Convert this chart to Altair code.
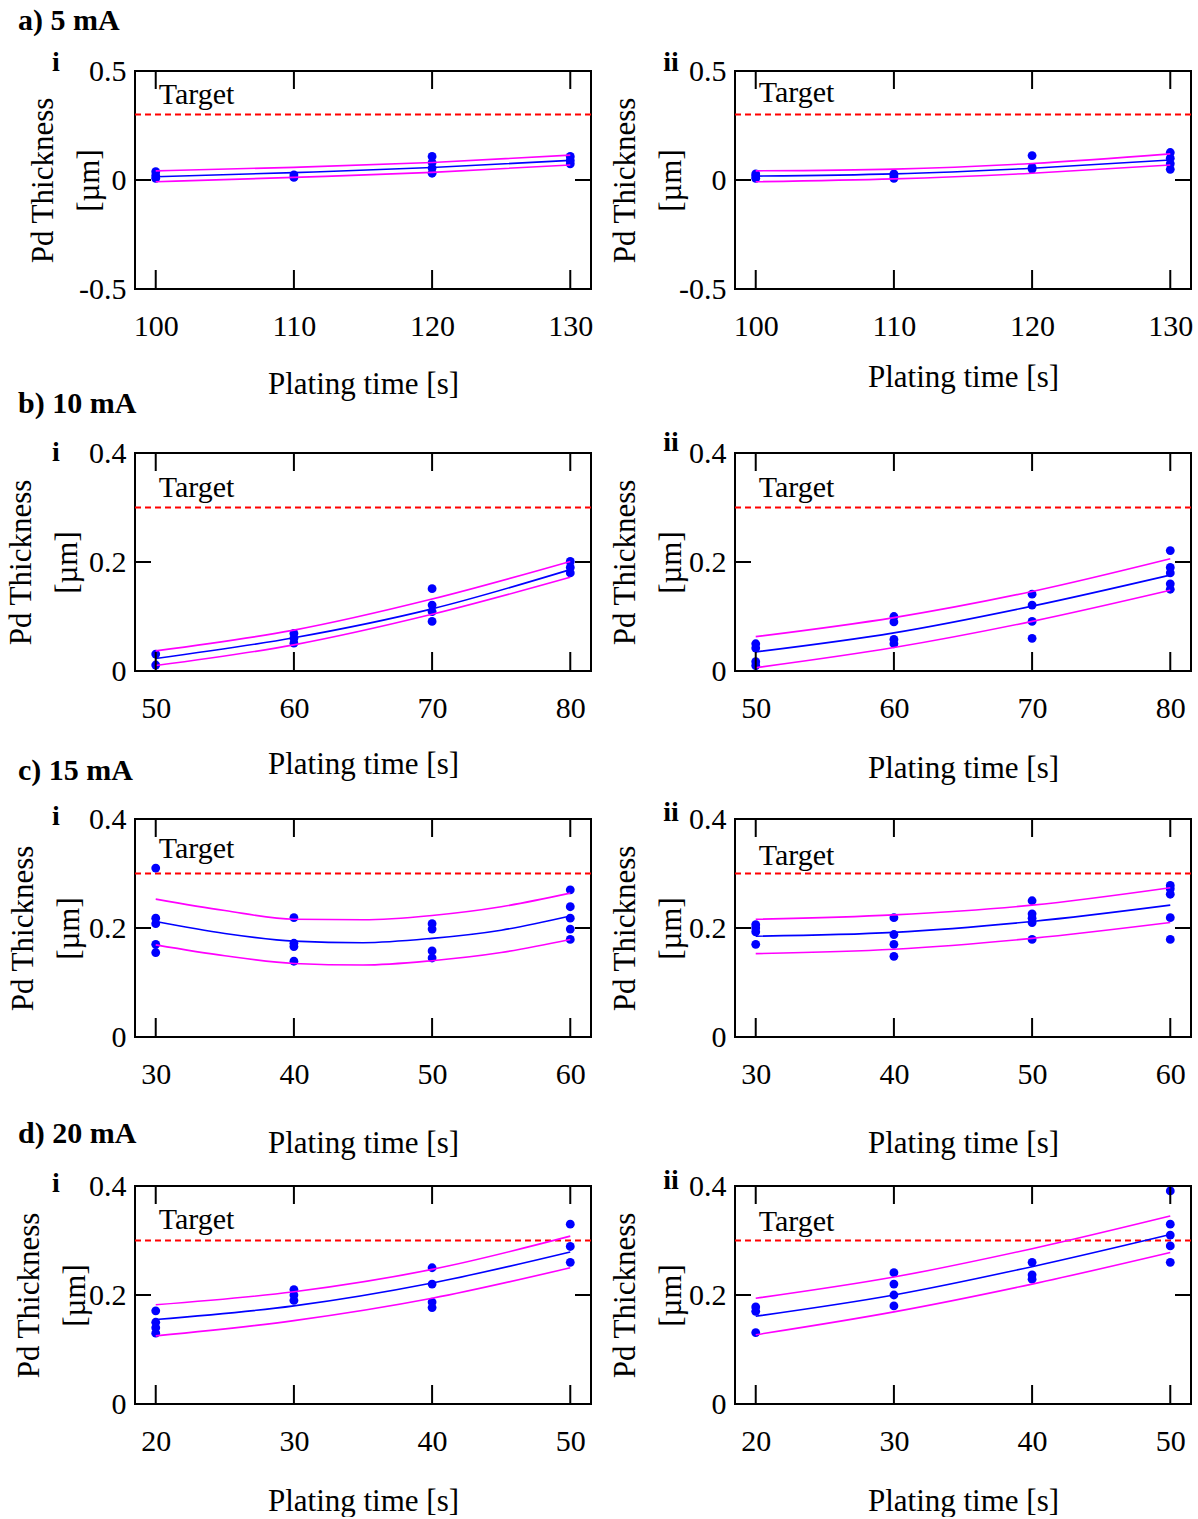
import altair as alt
import pandas as pd

FONT = "Liberation Serif"
W, H = 456, 218
TARGET = 0.3

# ---------------- data ----------------
A_TIMES = [100, 110, 120, 130]
B_TIMES = [50, 60, 70, 80]
C_TIMES = [30, 40, 50, 60]
D_TIMES = [20, 30, 40, 50]

A_YTICKS = [-0.5, 0, 0.5]
A_YDOMAIN = [-0.5, 0.5]
BCD_YTICKS = [0, 0.2, 0.4]
BCD_YDOMAIN = [0, 0.4]

# a) 5 mA
A1_POINTS = {100: [0.008, 0.02, 0.038], 110: [0.012, 0.023],
             120: [0.031, 0.055, 0.08, 0.108], 130: [0.074, 0.09, 0.108]}
A1_FIT_MID = [0.015, 0.034, 0.057, 0.09]
A1_FIT_UP = [0.042, 0.058, 0.08, 0.114]
A1_FIT_LO = [-0.008, 0.012, 0.035, 0.069]

A2_POINTS = {100: [0.008, 0.018, 0.028], 110: [0.008, 0.018, 0.028],
             120: [0.05, 0.058, 0.112], 130: [0.049, 0.075, 0.1, 0.126]}
A2_FIT_MID = [0.018, 0.028, 0.054, 0.092]
A2_FIT_UP = [0.042, 0.05, 0.076, 0.12]
A2_FIT_LO = [-0.008, 0.005, 0.031, 0.069]

# b) 10 mA
B1_POINTS = {50: [0.011, 0.031], 60: [0.051, 0.06, 0.069],
             70: [0.091, 0.109, 0.121, 0.151], 80: [0.18, 0.19, 0.201]}
B1_FIT_MID = [0.023, 0.061, 0.114, 0.186]
B1_FIT_UP = [0.037, 0.075, 0.132, 0.201]
B1_FIT_LO = [0.01, 0.048, 0.104, 0.172]

B2_POINTS = {50: [0.01, 0.017, 0.042, 0.05], 60: [0.05, 0.058, 0.09, 0.1],
             70: [0.06, 0.091, 0.121, 0.141], 80: [0.15, 0.16, 0.18, 0.19, 0.221]}
B2_FIT_MID = [0.035, 0.07, 0.119, 0.176]
B2_FIT_UP = [0.063, 0.098, 0.146, 0.206]
B2_FIT_LO = [0.006, 0.043, 0.091, 0.148]

# c) 15 mA
C1_POINTS = {30: [0.155, 0.17, 0.208, 0.218, 0.31], 40: [0.139, 0.166, 0.172, 0.219],
             50: [0.145, 0.158, 0.198, 0.208], 60: [0.179, 0.198, 0.218, 0.239, 0.27]}
C1_FIT_X = [30, 35, 40, 45, 50, 55, 60]
C1_FIT_MID = [0.212, 0.19, 0.176, 0.173, 0.181, 0.196, 0.222]
C1_FIT_UP = [0.253, 0.232, 0.216, 0.215, 0.223, 0.239, 0.264]
C1_FIT_LO = [0.169, 0.149, 0.135, 0.132, 0.14, 0.155, 0.179]

C2_POINTS = {30: [0.17, 0.193, 0.2, 0.206], 40: [0.148, 0.17, 0.188, 0.219],
             50: [0.179, 0.21, 0.218, 0.226, 0.25], 60: [0.179, 0.219, 0.262, 0.272, 0.278]}
C2_FIT_MID = [0.185, 0.192, 0.212, 0.242]
C2_FIT_UP = [0.216, 0.224, 0.242, 0.274]
C2_FIT_LO = [0.153, 0.161, 0.181, 0.21]

# d) 20 mA
D1_POINTS = {20: [0.13, 0.14, 0.15, 0.171], 30: [0.19, 0.2, 0.21],
             40: [0.177, 0.187, 0.22, 0.25], 50: [0.26, 0.289, 0.33]}
D1_FIT_MID = [0.155, 0.18, 0.222, 0.279]
D1_FIT_UP = [0.182, 0.206, 0.247, 0.308]
D1_FIT_LO = [0.125, 0.153, 0.194, 0.25]

D2_POINTS = {20: [0.131, 0.17, 0.178], 30: [0.18, 0.2, 0.22, 0.241],
             40: [0.229, 0.237, 0.26], 50: [0.26, 0.29, 0.31, 0.33, 0.391]}
D2_FIT_MID = [0.161, 0.2, 0.252, 0.311]
D2_FIT_UP = [0.194, 0.233, 0.285, 0.345]
D2_FIT_LO = [0.127, 0.169, 0.22, 0.278]

HEADERS = ["a) 5 mA", "b) 10 mA", "c) 15 mA", "d) 20 mA"]

BLUE = "#0000ff"
MAGENTA = "#ff00ff"
RED = "#ff0000"


def panel(times, yticks, ydom, points, fit_x, mid, up, lo,
          sub, sub_dy, xtitle_y, ytitle_x, target_dy,
          header=None, header_dy=-50, anchor=False):
    xs = alt.Scale(domain=[times[0] - 1.5, times[-1] + 1.5], nice=False, zero=False)
    ys = alt.Scale(domain=ydom, nice=False, zero=False)
    xax = alt.Axis(values=times, title="Plating time [s]", grid=False, ticks=False,
                   tickSize=0, domain=False, labelFont=FONT, labelFontSize=30,
                   labelColor="black", labelPadding=22, labelFlush=False,
                   titleFont=FONT, titleFontSize=31, titleFontWeight="normal",
                   titleColor="black", titleY=xtitle_y, titleX=W / 2)
    yax = alt.Axis(values=yticks, title=["Pd Thickness", "[µm]"], grid=False,
                   ticks=False, tickSize=0, domain=False, labelFont=FONT,
                   labelFontSize=30, labelColor="black", labelPadding=9,
                   labelExpr="'' + datum.value", labelFlush=False,
                   titleFont=FONT, titleFontSize=31, titleFontWeight="normal",
                   titleColor="black", titleX=ytitle_x, titleY=H / 2,
                   titleLineHeight=46)
    X = alt.X("x:Q", scale=xs, axis=xax)
    Y = alt.Y("y:Q", scale=ys, axis=yax)

    pts = pd.DataFrame([(t, v) for t, vals in points.items() for v in vals],
                       columns=["x", "y"])
    fit = pd.DataFrame({"x": fit_x * 3, "y": mid + up + lo,
                        "curve": ["mid"] * len(fit_x) + ["up"] * len(fit_x) + ["lo"] * len(fit_x)})
    xt = pd.DataFrame({"x": times})
    yt = pd.DataFrame({"y": yticks})
    tgt = pd.DataFrame({"x": [times[0]], "y": [TARGET], "label": ["Target"]})

    layers = []
    layers.append(alt.Chart(tgt).mark_rule(color=RED, strokeWidth=2, strokeDash=[6, 4])
                  .encode(y=Y))
    layers.append(alt.Chart(tgt).mark_text(align="left", baseline="alphabetic", dx=3,
                                           dy=-target_dy, font=FONT, fontSize=30,
                                           color="black")
                  .encode(x=X, y=Y, text="label:N"))
    layers.append(alt.Chart(pts).mark_circle(color=BLUE, size=78, opacity=1)
                  .encode(x=X, y=Y))
    layers.append(alt.Chart(fit).transform_filter(alt.datum.curve != "mid")
                  .mark_line(color=MAGENTA, strokeWidth=1.6, interpolate="monotone")
                  .encode(x=X, y=Y, detail="curve:N"))
    layers.append(alt.Chart(fit).transform_filter(alt.datum.curve == "mid")
                  .mark_line(color=BLUE, strokeWidth=1.6, interpolate="monotone")
                  .encode(x=X, y=Y))
    # inward tick marks on all four sides
    layers.append(alt.Chart(xt).mark_rule(color="black", strokeWidth=2)
                  .encode(x=X, y=alt.value(0), y2=alt.value(18)))
    layers.append(alt.Chart(xt).mark_rule(color="black", strokeWidth=2)
                  .encode(x=X, y=alt.value(H - 19), y2=alt.value(H)))
    layers.append(alt.Chart(yt).mark_rule(color="black", strokeWidth=2)
                  .encode(y=Y, x=alt.value(0), x2=alt.value(16)))
    layers.append(alt.Chart(yt).mark_rule(color="black", strokeWidth=2)
                  .encode(y=Y, x=alt.value(W - 16), x2=alt.value(W)))
    # sub-panel label (i / ii)
    sub_x = -79 if sub == "i" else -64
    layers.append(alt.Chart(pd.DataFrame({"label": [sub]}))
                  .mark_text(align="center", baseline="middle", font=FONT, fontSize=28,
                             fontWeight="bold", color="black")
                  .encode(x=alt.value(sub_x), y=alt.value(sub_dy), text="label:N"))
    if header is not None:
        layers.append(alt.Chart(pd.DataFrame({"label": [header]}))
                      .mark_text(align="left", baseline="middle", font=FONT, fontSize=30,
                                 fontWeight="bold", color="black")
                      .encode(x=alt.value(-117), y=alt.value(header_dy), text="label:N"))
    if anchor:
        layers.append(alt.Chart(pd.DataFrame({"a": [0]}))
                      .mark_rule(opacity=0, strokeWidth=1)
                      .encode(x=alt.value(-133.5), x2=alt.value(-133.5),
                              y=alt.value(-69.5), y2=alt.value(-69)))
    return alt.layer(*layers).properties(width=W, height=H)


def spacer(h):
    return (alt.Chart(pd.DataFrame({"a": [0]}))
            .mark_point(opacity=0)
            .encode(x=alt.value(0), y=alt.value(0))
            .properties(width=W, height=h, view={"stroke": "transparent"}))


a1 = panel(A_TIMES, A_YTICKS, A_YDOMAIN, A1_POINTS, A_TIMES, A1_FIT_MID, A1_FIT_UP, A1_FIT_LO,
           "i", -8, 80, -76, 11, header=HEADERS[0], header_dy=-50, anchor=True)
a2 = panel(A_TIMES, A_YTICKS, A_YDOMAIN, A2_POINTS, A_TIMES, A2_FIT_MID, A2_FIT_UP, A2_FIT_LO,
           "ii", -8, 73, -94, 13)
b1 = panel(B_TIMES, BCD_YTICKS, BCD_YDOMAIN, B1_POINTS, B_TIMES, B1_FIT_MID, B1_FIT_UP, B1_FIT_LO,
           "i", 0, 78, -98, 11, header=HEADERS[1], header_dy=-49)
b2 = panel(B_TIMES, BCD_YTICKS, BCD_YDOMAIN, B2_POINTS, B_TIMES, B2_FIT_MID, B2_FIT_UP, B2_FIT_LO,
           "ii", -10, 82, -94, 11)
c1 = panel(C_TIMES, BCD_YTICKS, BCD_YDOMAIN, C1_POINTS, C1_FIT_X, C1_FIT_MID, C1_FIT_UP, C1_FIT_LO,
           "i", -2, 91, -96, 16, header=HEADERS[2], header_dy=-48)
c2 = panel(C_TIMES, BCD_YTICKS, BCD_YDOMAIN, C2_POINTS, C_TIMES, C2_FIT_MID, C2_FIT_UP, C2_FIT_LO,
           "ii", -6, 91, -94, 9)
d1 = panel(D_TIMES, BCD_YTICKS, BCD_YDOMAIN, D1_POINTS, D_TIMES, D1_FIT_MID, D1_FIT_UP, D1_FIT_LO,
           "i", -2, 82, -90, 12, header=HEADERS[3], header_dy=-52)
d2 = panel(D_TIMES, BCD_YTICKS, BCD_YDOMAIN, D2_POINTS, D_TIMES, D2_FIT_MID, D2_FIT_UP, D2_FIT_LO,
           "ii", -5, 82, -94, 10)

cells = [a1, a2,
         spacer(164), spacer(164),
         b1, b2,
         spacer(148), spacer(148),
         c1, c2,
         spacer(149), spacer(149),
         d1, d2]

chart = (alt.concat(*cells, columns=2, spacing={"row": 0, "column": 144}, bounds="flush")
         .properties(padding={"left": 0, "top": 0, "right": 0, "bottom": 0},
                     background="white")
         .configure(font=FONT)
         .configure_view(stroke="black", strokeWidth=2))

chart.save("out.html", embed_options={"renderer": "svg", "actions": False})
